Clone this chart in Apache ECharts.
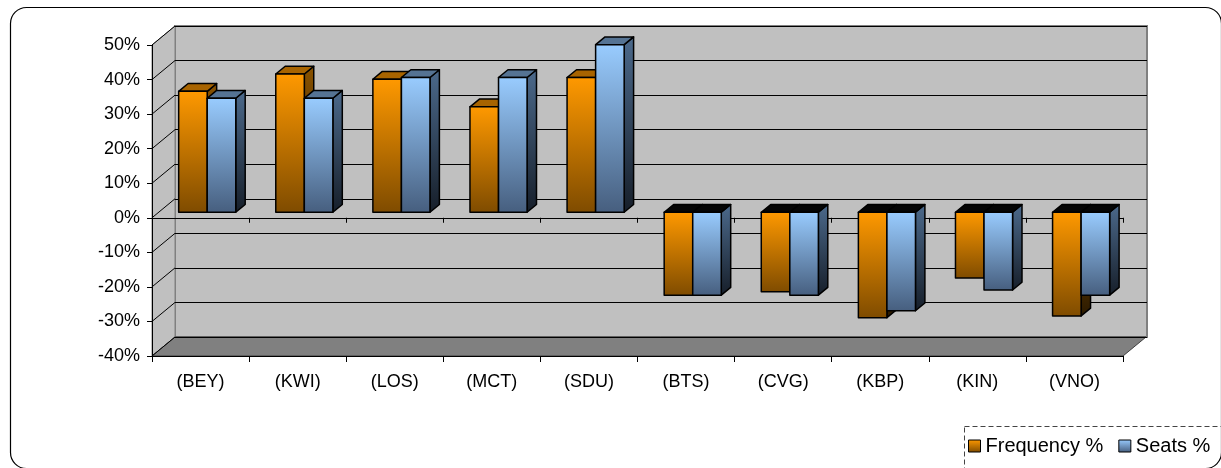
<!DOCTYPE html>
<html>
<head>
<meta charset="utf-8">
<script src="https://cdn.jsdelivr.net/npm/echarts@6/dist/echarts.min.js"></script>
<style>
  html, body { margin: 0; padding: 0; background: #fff; }
  #chart { width: 1221px; height: 468px; }
</style>
</head>
<body>
<div id="chart"></div>
<script>
// data (percent)
var airports = ['(BEY)', '(KWI)', '(LOS)', '(MCT)', '(SDU)', '(BTS)', '(CVG)', '(KBP)', '(KIN)', '(VNO)'];
var frequency = [35, 40, 38.5, 30.5, 39, -24, -23, -30.5, -19, -30];
var seats = [33, 33, 39, 39, 48.5, -24, -24, -28.5, -22.5, -24];
var yTicks = [-40, -30, -20, -10, 0, 10, 20, 30, 40, 50];

// layout of the fake 3d box
var L = 152, T = 45, W = 971, H = 311;
var DX = 23, DY = 19;          // depth offset of the back wall
var F0 = 0.29, F1 = 0.7;       // depth of bar front / back (fraction)
var BAR_W = 0.294;             // bar width, fraction of a category

var FONT = "'Liberation Sans', Arial, sans-serif";

var grad = echarts.graphic.LinearGradient;
var colors = [
  {front: ['#FF9900', '#7E4B00'], top: '#A86400', side: ['#8A5300', '#2A1900']},
  {front: ['#99CCFF', '#465E7E'], top: '#557393', side: ['#4C6A8C', '#161E29']}
];

var myChart = echarts.init(document.getElementById('chart'));

function renderWalls(params, api) {
  var cs = params.coordSys;
  var y = api.coord([0, api.value(1)])[1];
  var kids = [];
  if (params.dataIndex === 0) {
    var x0 = cs.x, y0 = cs.y, x1 = cs.x + cs.width, y1 = cs.y + cs.height;
    // back wall
    kids.push({type: 'rect', shape: {x: x0 + DX, y: y0 - DY, width: cs.width + 1, height: cs.height},
      style: {fill: '#C0C0C0', stroke: '#808080', lineWidth: 2}});
    // left wall
    kids.push({type: 'polygon', shape: {points: [[x0, y0], [x0 + DX, y0 - DY], [x0 + DX, y1 - DY], [x0, y1]]},
      style: {fill: '#C0C0C0', stroke: '#808080', lineWidth: 1}});
    // floor
    kids.push({type: 'polygon', shape: {points: [[x0, y1], [x1, y1], [x1 + DX, y1 - DY], [x0 + DX, y1 - DY]]},
      style: {fill: '#808080', stroke: '#404040', lineWidth: 1}});
  }
  kids.push({type: 'line', shape: {x1: cs.x, y1: y, x2: cs.x + DX, y2: y - DY},
    style: {stroke: '#000', lineWidth: 1}});
  return {type: 'group', children: kids};
}

function barRenderer(s) {
  return function (params, api) {
    var i = api.value(0), v = api.value(1);
    var band = api.size([1, 0])[0];
    var bw = band * BAR_W;
    var pv = api.coord([i, v]);
    var p0 = api.coord([i, 0]);
    var ox = DX * F0, oy = -DY * F0;
    var dx = DX * (F1 - F0), dy = -DY * (F1 - F0);
    var x0 = p0[0] + ox - (s === 0 ? bw : 0);
    var x1 = x0 + bw;
    var yt = Math.min(pv[1], p0[1]) + oy;
    var yb = Math.max(pv[1], p0[1]) + oy;
    var c = colors[s];
    var stroke = {stroke: '#000', lineWidth: 1.5, lineJoin: 'round'};
    return {
      type: 'group',
      children: [
        {type: 'polygon', shape: {points: [[x1, yt], [x1 + dx, yt + dy], [x1 + dx, yb + dy], [x1, yb]]},
          style: Object.assign({fill: new grad(0, 0, 0, 1, [{offset: 0, color: c.side[0]}, {offset: 1, color: c.side[1]}])}, stroke)},
        {type: 'polygon', shape: {points: [[x0, yt], [x1, yt], [x1 + dx, yt + dy], [x0 + dx, yt + dy]]},
          style: Object.assign({fill: v >= 0 ? c.top : '#050505'}, stroke)},
        {type: 'rect', shape: {x: x0, y: yt, width: bw, height: yb - yt},
          style: Object.assign({fill: new grad(0, 0, 0, 1, [{offset: 0, color: c.front[0]}, {offset: 1, color: c.front[1]}])}, stroke)}
      ]
    };
  };
}

var option = {
  backgroundColor: '#fff',
  animation: false,
  legend: {
    data: ['Frequency %', 'Seats %'],
    left: 968, top: 436, width: 253,
    padding: 0,
    itemWidth: 12, itemHeight: 12, itemGap: 15,
    icon: 'path://M0,0L10,0L10,10L0,10Z',
    itemStyle: {borderColor: '#000', borderWidth: 1},
    textStyle: {fontFamily: FONT, fontSize: 20, color: '#000'},
    selectedMode: false
  },
  grid: [
    {left: L, top: T, width: W, height: H},
    {left: L + DX, top: T - DY, width: W + 1, height: H}
  ],
  xAxis: [
    {type: 'category', data: airports, gridIndex: 0, position: 'bottom',
      axisLine: {onZero: true, lineStyle: {color: '#000', width: 1}},
      axisTick: {show: true, length: 5, lineStyle: {color: '#000'}},
      axisLabel: {show: false}, splitLine: {show: false}},
    {type: 'category', data: airports, gridIndex: 0, position: 'bottom',
      axisLine: {onZero: false, lineStyle: {color: '#000', width: 1}},
      axisTick: {show: true, length: 6, lineStyle: {color: '#000'}},
      axisLabel: {margin: 17, fontFamily: FONT, fontSize: 18, color: '#000'},
      splitLine: {show: false}},
    {type: 'category', data: airports, gridIndex: 1, show: false}
  ],
  yAxis: [
    {type: 'value', gridIndex: 0, min: -40, max: 50, interval: 10,
      axisLine: {show: true, onZero: false, lineStyle: {color: '#000', width: 1}},
      axisTick: {show: true, length: 5, lineStyle: {color: '#000'}},
      axisLabel: {margin: 12, formatter: '{value}%', fontFamily: FONT, fontSize: 18, color: '#000'},
      splitLine: {show: false}},
    {type: 'value', gridIndex: 1, min: -40, max: 50, interval: 10,
      axisLine: {show: false}, axisTick: {show: false}, axisLabel: {show: false},
      splitLine: {show: true, lineStyle: {color: '#000', width: 1}}}
  ],
  series: [
    {
      name: 'walls', type: 'custom', xAxisIndex: 0, yAxisIndex: 0, z: -1, silent: true,
      renderItem: renderWalls,
      data: yTicks.map(function (v) { return [0, v]; })
    },
    {
      name: 'Frequency %', type: 'custom', xAxisIndex: 0, yAxisIndex: 0, z: 3,
      itemStyle: {color: new grad(0, 0, 0, 1, [{offset: 0, color: '#FF9900'}, {offset: 1, color: '#7E4B00'}])},
      renderItem: barRenderer(0),
      data: frequency.map(function (v, i) { return [i, v]; })
    },
    {
      name: 'Seats %', type: 'custom', xAxisIndex: 0, yAxisIndex: 0, z: 3,
      itemStyle: {color: new grad(0, 0, 0, 1, [{offset: 0, color: '#99CCFF'}, {offset: 1, color: '#465E7E'}])},
      renderItem: barRenderer(1),
      data: seats.map(function (v, i) { return [i, v]; })
    }
  ],
  graphic: [
    {type: 'rect', left: 8, top: 5, silent: true, z: -10,
      shape: {width: 1211, height: 461, r: 16},
      style: {fill: 'none', stroke: '#000', lineWidth: 1.2}},
    {type: 'rect', left: 962, top: 424, silent: true,
      shape: {width: 257, height: 42},
      style: {fill: 'none', stroke: '#444', lineWidth: 1, lineDash: [5, 3]}}
  ]
};
myChart.setOption(option);
</script>
</body>
</html>
